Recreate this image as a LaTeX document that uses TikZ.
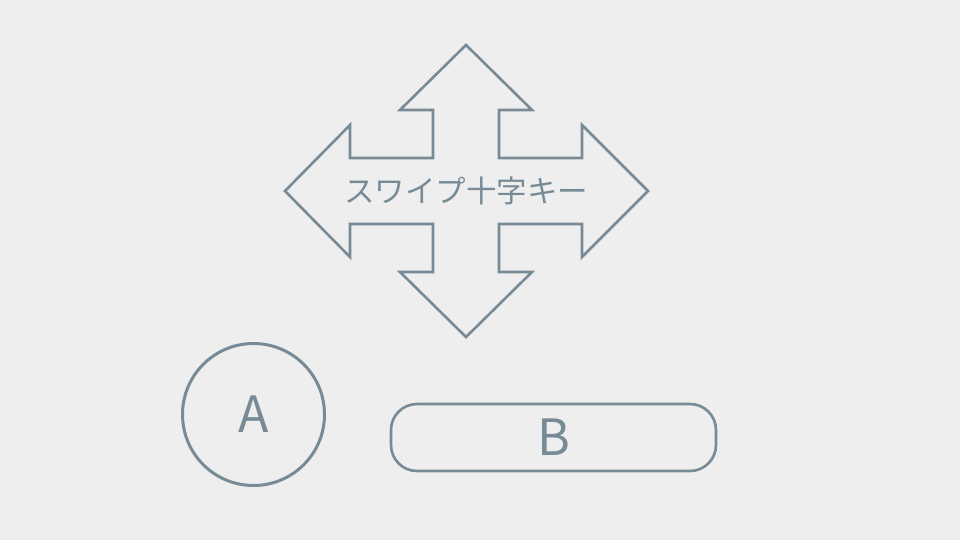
\documentclass[tikz,border=0pt]{standalone}
\usepackage{fontspec}
\newfontfamily\jpfont{Noto Sans CJK JP}
\definecolor{keygray}{HTML}{778A96}
\definecolor{bggray}{HTML}{EEEEEE}

\begin{document}
\begin{tikzpicture}[x=1pt, y=-1pt, line join=miter,
    keyline/.style={draw=keygray, line width=2.6pt}]
  \fill[bggray] (0, 0) rectangle (960, 540);
  \useasboundingbox (0, 0) rectangle (960, 540);
  \draw[keyline] (466, 45) -- (532, 110) -- (499, 110) -- (499, 158)
    -- (582, 158) -- (582, 125) -- (648, 191) -- (582, 257) -- (582, 224)
    -- (499, 224) -- (499, 272) -- (532, 272) -- (466, 337) -- (400, 272)
    -- (433, 272) -- (433, 224) -- (350, 224) -- (350, 257) -- (285, 191)
    -- (350, 125) -- (350, 158) -- (433, 158) -- (433, 110) -- (400, 110)
    -- cycle;
  \node (swipe) [text=keygray, font=\jpfont\fontsize{30.5}{33}\selectfont] at (466, 191) {スワイプ十字キー};
  \node (a) [circle, keyline, line width=3pt, minimum size=142pt, inner sep=0pt,
    text=keygray, font=\jpfont\fontsize{50}{54}\selectfont] at (253.5, 414.5) {A};
  \node (b) [rectangle, rounded corners=26pt, keyline, minimum width=325pt, minimum height=67pt,
    inner sep=0pt, text=keygray, font=\jpfont\fontsize{50}{54}\selectfont] at (553.5, 437.5) {B};
\end{tikzpicture}
\end{document}
